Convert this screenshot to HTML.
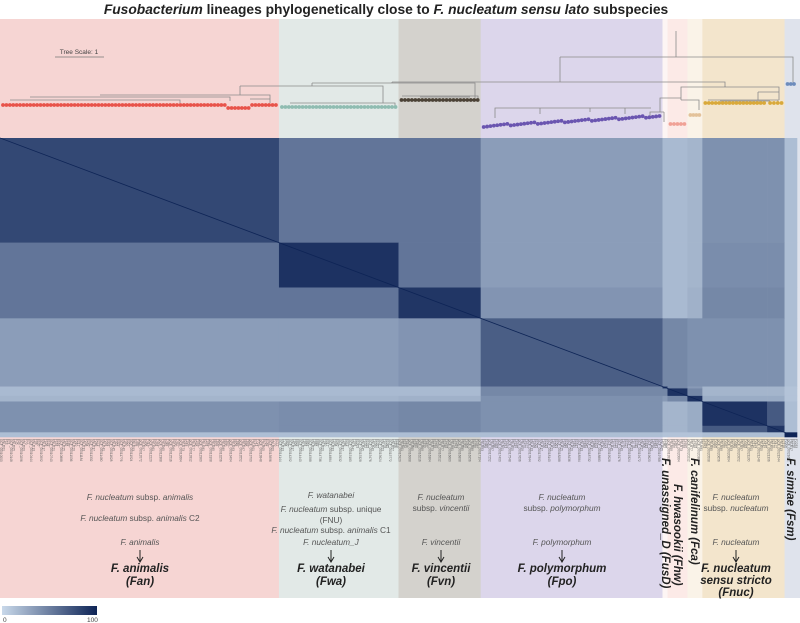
<!DOCTYPE html>
<html><head><meta charset="utf-8">
<style>
html,body{margin:0;padding:0;background:#fff;}
body{width:800px;height:623px;overflow:hidden;font-family:"Liberation Sans",sans-serif;}
svg{display:block;}
</style></head>
<body>
<svg id="fig" width="800" height="623" viewBox="0 0 800 623" xmlns="http://www.w3.org/2000/svg">
  <text x="386" y="14" text-anchor="middle" font-size="13.8" font-weight="bold" fill="#222"><tspan font-style="italic">Fusobacterium</tspan> lineages phylogenetically close to <tspan font-style="italic">F. nucleatum sensu lato</tspan> subspecies</text>
  <g id="panels"></g>
  <g id="tree">
    <g stroke="#8a8a8a" stroke-width="0.8" fill="none">
      <path d="M676 31V57M560 57H793V83M560 57V82M392 82H725V87M392 82V83"/>
      <path d="M312 83H475V98M312 83V86M240 86H383V103M240 86V95"/>
      <path d="M725 87H681V98M725 87V86M725 87H779V92M758 92H779V100M758 92V100"/>
      <path d="M681 98H660V112M681 98V100M681 100H699V110M664 112H650V118M664 112V122"/>
      <path d="M651 108H495V118M540 108V114M590 108V112M625 108V114"/>
      <path d="M100 95H270V100M30 97H230V101M10 100H180V103M250 99H270V103"/>
      <path d="M402 96H478V99M420 97H470M290 103H395V106"/>
      <path d="M708 100H778V102M720 101H770"/>
    </g>
    <line x1="55" y1="57" x2="104" y2="57" stroke="#777" stroke-width="0.8"/>
    <text x="79" y="54" text-anchor="middle" font-size="6.5" fill="#444">Tree Scale: 1</text>
    <g id="leaves"></g>
  </g>
  <g id="heatmap"></g>
  <g id="leaflabels"></g>
  <g id="annot" font-size="8.3" fill="#555" text-anchor="middle">
    <g font-style="italic">
      <text x="140" y="500"><tspan>F. nucleatum</tspan><tspan font-style="normal"> subsp. </tspan><tspan>animalis</tspan></text>
      <text x="140" y="521"><tspan>F. nucleatum</tspan><tspan font-style="normal"> subsp. </tspan><tspan>animalis</tspan><tspan font-style="normal"> C2</tspan></text>
      <text x="140" y="545">F. animalis</text>
    </g>
    <g font-style="italic">
      <text x="331" y="498">F. watanabei</text>
      <text x="331" y="512"><tspan>F. nucleatum</tspan><tspan font-style="normal"> subsp. unique</tspan></text>
      <text x="331" y="523" font-style="normal">(FNU)</text>
      <text x="331" y="533"><tspan>F. nucleatum</tspan><tspan font-style="normal"> subsp. </tspan><tspan>animalis</tspan><tspan font-style="normal"> C1</tspan></text>
      <text x="331" y="545">F. nucleatum_J</text>
    </g>
    <g font-style="italic">
      <text x="441" y="500">F. nucleatum</text>
      <text x="441" y="511"><tspan font-style="normal">subsp. </tspan>vincentii</text>
      <text x="441" y="545">F. vincentii</text>
    </g>
    <g font-style="italic">
      <text x="562" y="500">F. nucleatum</text>
      <text x="562" y="511"><tspan font-style="normal">subsp. </tspan>polymorphum</text>
      <text x="562" y="545">F. polymorphum</text>
    </g>
    <g font-style="italic">
      <text x="736" y="500">F. nucleatum</text>
      <text x="736" y="511"><tspan font-style="normal">subsp. </tspan>nucleatum</text>
      <text x="736" y="545">F. nucleatum</text>
    </g>
    <g font-size="11.5" font-weight="bold" font-style="italic" fill="#222">
      <text x="140" y="572">F. animalis</text>
      <text x="140" y="585">(Fan)</text>
      <text x="331" y="572">F. watanabei</text>
      <text x="331" y="585">(Fwa)</text>
      <text x="441" y="572">F. vincentii</text>
      <text x="441" y="585">(Fvn)</text>
      <text x="562" y="572">F. polymorphum</text>
      <text x="562" y="585">(Fpo)</text>
      <text x="736" y="572">F. nucleatum</text>
      <text x="736" y="584">sensu stricto</text>
      <text x="736" y="596">(Fnuc)</text>
      <text transform="translate(662,458) rotate(90)" text-anchor="start">F. unassigned_D (FusD)</text>
      <text transform="translate(674,484) rotate(90)" text-anchor="start">F. hwasookii (Fhw)</text>
      <text transform="translate(691,458) rotate(90)" text-anchor="start">F. canifelinum (Fca)</text>
      <text transform="translate(787,458) rotate(90)" text-anchor="start">F. simiae (Fsm)</text>
    </g>
    <g id="arrows"></g>
  </g>
  <defs><linearGradient id="lg" x1="0" x2="1"><stop offset="0" stop-color="#c9d9ea"/><stop offset="1" stop-color="#0e2456"/></linearGradient></defs>
  <rect x="2" y="606" width="95" height="9" fill="url(#lg)"/>
  <text x="3" y="622" font-size="6.5" fill="#444">0</text>
  <text x="87" y="622" font-size="6.5" fill="#444">100</text>
</svg>
<script>
const groupNames=["Fan","Fwa","Fvn","Fpo","FusD","Fhw","Fca","Fnuc","Fnuc2","Fsm"];
const groupSizes=[112,48,33,73,2,8,6,26,7,5];
const simMatrix=[
 [80,55,55,33,17,17,20,40,40,15],
 [55,92,55,33,17,17,20,42,42,15],
 [55,55,90,38,17,17,22,45,45,15],
 [33,33,38,68,45,45,40,40,40,15],
 [17,17,17,45,92,45,35,20,20,12],
 [17,17,17,45,45,92,45,20,20,12],
 [20,20,22,40,35,45,92,25,25,12],
 [40,42,45,40,20,20,25,92,70,15],
 [40,42,45,40,20,20,25,70,90,15],
 [15,15,15,15,12,12,12,15,15,100]
];
const panelColors=["#f6d5d3","#e2e9e7","#d4d2cd","#dcd6eb","#fdf5f4","#fceae7","#faf3e8","#f3e5cc","#f3e5cc","#dfe3ec"];
const leafColors=["#e8534a","#8fbcb1","#4b4236","#6a55b0","#bbb","#f0a196","#e3c29a","#d9a93a","#d9a93a","#6d8cbc"];
const NS="http://www.w3.org/2000/svg";
const total=groupSizes.reduce((a,b)=>a+b,0);
const W=797,HX0=0,HY0=138,HH=299;
function xs(c){return HX0+c*W/total;}
function ys(c){return HY0+c*HH/total;}
function col(v){const a=[201,217,234],b=[14,36,86];const t=v/100;return "rgb("+a.map((x,i)=>Math.round(x+(b[i]-x)*t)).join(",")+")";}
const cum=[0];groupSizes.forEach(s=>cum.push(cum[cum.length-1]+s));
function mk(tag,attrs,parent){const e=document.createElementNS(NS,tag);for(const k in attrs)e.setAttribute(k,attrs[k]);parent.appendChild(e);return e;}
const panels=document.getElementById('panels');
for(let i=0;i<groupNames.length;i++){
  let x0=xs(cum[i]),x1=xs(cum[i+1]);
  if(i==groupNames.length-1)x1=800;
  const r=mk('rect',{x:x0,y:19,width:x1-x0+0.5,height:579,fill:panelColors[i]},panels);
  
  
}
const hm=document.getElementById('heatmap');
for(let i=0;i<groupNames.length;i++)for(let j=0;j<groupNames.length;j++){
  const r=mk('rect',{x:xs(cum[j]),y:ys(cum[i]),width:xs(cum[j+1])-xs(cum[j])+0.3,height:ys(cum[i+1])-ys(cum[i])+0.3,fill:col(simMatrix[i][j])},hm);
  
  
}
const diag=mk('line',{x1:xs(0),y1:ys(0),x2:xs(total),y2:ys(total),stroke:col(100),'stroke-width':0.8},hm);


const leaves=document.getElementById('leaves');
const leafY=[105,107,100,0,0,124,115,103,103,84];
for(let i=0;i<groupNames.length;i++){
  if(i==4)continue;
  const x0=xs(cum[i])+3,x1=xs(cum[i+1])-3,n=Math.max(1,Math.round((x1-x0)/3.4));
  for(let k=0;k<=n;k++){
    const x=x0+(x1-x0)*k/Math.max(n,1);
    let y=leafY[i];
    if(i==3)y=127-10*(k/n)-((k%8)/8)*2;
    if(i==0&&x>228&&x<250)y=108;
    const c=mk('circle',{cx:x,cy:y,r:1.9,fill:leafColors[i]},leaves);
    
    
  }
}
const ll=document.getElementById('leaflabels');
for(let c=0;c<total;c+=1){
  const x=xs(c+0.5);
  const t=mk('text',{transform:'translate('+(x-1)+',439) rotate(90)','font-size':'3.2',fill:'#666'},ll);
  t.textContent=(c%4==0?'GCF_000'+(10000+c*37):(c%4==1?'FNU'+(200+c):'F'+(c*7)));
  
  
}
const ar=document.getElementById('arrows');
[140,331,441,562,736].forEach(x=>{
  const l=mk('path',{d:'M'+x+' 550V561M'+(x-3)+' 557L'+x+' 562L'+(x+3)+' 557',stroke:'#222','stroke-width':1,fill:'none'},ar);
  
  
});
</script>
</body></html>
